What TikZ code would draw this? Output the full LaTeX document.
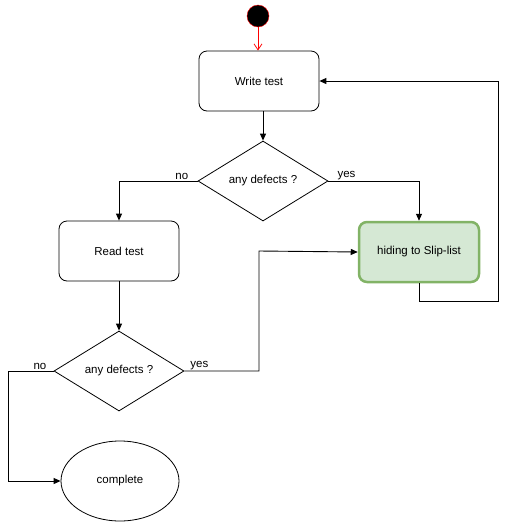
\documentclass[tikz,border=0pt]{standalone}
\usepackage{fontspec}
\setmainfont{Liberation Sans}
\usetikzlibrary{arrows.meta,shapes.geometric}
\definecolor{slipfill}{HTML}{D5E8D4}
\definecolor{slipdraw}{HTML}{82B366}
\tikzset{
  every node/.style={font=\fontsize{11.5}{13}\selectfont},
  proc/.style={draw, line width=0.8pt, rounded corners=8pt, minimum width=120pt, minimum height=60pt, inner sep=0pt},
  dec/.style={draw, line width=0.8pt, diamond, aspect=1.6, minimum width=130pt, minimum height=80pt, inner sep=0pt},
  term/.style={draw, line width=0.8pt, ellipse, minimum width=118pt, minimum height=80pt, inner sep=0pt},
  conn/.style={draw, line width=0.9pt, -{Triangle[length=7pt,width=6pt]}},
  lbl/.style={inner sep=1pt},
}
\begin{document}
\begin{tikzpicture}[x=1pt,y=-1pt]
\useasboundingbox (0,0) rectangle (518,523);
\node[circle, fill=black, draw=red, minimum size=22pt, inner sep=0pt] (start) at (258,16) {};
\node[proc] (write) at (259,81) {Write test};
\node[dec] (d1) at (263,181) {any defects ?};
\node[proc] (read) at (119,251) {Read test};
\node[proc, fill=slipfill, draw=slipdraw, line width=2.5pt] (slip) at (419,252) {hiding to Slip-list};
\node[dec] (d2) at (119,371) {any defects ?};
\node[term] (done) at (120,481) {complete};

\draw[red, line width=0.8pt, -{Straight Barb[length=6pt,width=8pt]}] (start) -- (start|-write.north);
\draw[conn] (write.south-|d1.north) -- (d1.north);
\draw[conn] (d1.west) -| node[lbl, pos=0.1, above] {no} (read.north);
\draw[conn] (d1.east) -| node[lbl, pos=0.1, above] {yes} (slip.north);
\coordinate (c1) at (419,301);
\coordinate (c2) at (498,301);
\coordinate (c3) at (498,81);
\draw[conn] (slip.south) -- (c1) -- (c2) -- (c3) -- (write.east);
\draw[conn] (read.south) -- (d2.north);
\coordinate (c4) at (259,371);
\coordinate (c5) at (259,251);
\draw[conn] (d2.east) -- node[lbl, pos=0.2, above] {yes} (c4) -- (c5) -- (slip.west);
\coordinate (c6) at (8,371);
\coordinate (c7) at (8,481);
\draw[conn] (d2.west) -- node[lbl, pos=0.3, above] {no} (c6) -- (c7) -- (done.west);
\end{tikzpicture}
\end{document}
